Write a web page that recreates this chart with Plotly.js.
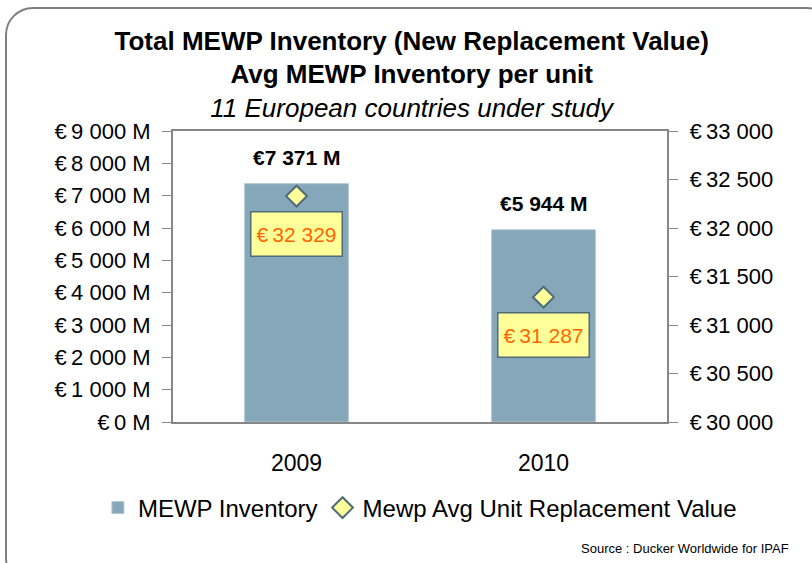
<!DOCTYPE html>
<html>
<head>
<meta charset="utf-8">
<script src="https://cdn.plot.ly/plotly-3.0.1.min.js"></script>
<style>
  html, body { margin:0; padding:0; background:#fff; overflow:hidden; }
  #chart { position:absolute; left:0; top:0; width:812px; height:563px; }
  #frame { position:absolute; left:5px; top:7px; width:830px; height:580px;
           border:2px solid #7f7f7f; border-radius:28px; pointer-events:none; box-sizing:border-box; }
</style>
</head>
<body>
<div id="chart"></div>
<div id="frame"></div>
<script>
// ---- data ----
const years = ['2009', '2010'];
const inventoryM = [7371, 5944];          // € millions
const avgUnitValue = [32329, 31287];      // € per unit
const seriesNames = ['MEWP Inventory', 'Mewp Avg Unit Replacement Value'];
const leftTicks = [0, 1000, 2000, 3000, 4000, 5000, 6000, 7000, 8000, 9000];
const rightTicks = [30000, 30500, 31000, 31500, 32000, 32500, 33000];

function grp(v) { return String(v).replace(/\B(?=(\d{3})+(?!\d))/g, ' '); }

const FONT = 'Liberation Sans, Arial, sans-serif';

const bars = {
  type: 'bar', x: years, y: inventoryM, name: seriesNames[0],
  width: 0.42,
  marker: { color: '#86A6B9', line: { color: '#B3C8D5', width: 1 } },
  hoverinfo: 'skip'
};
const pts = {
  type: 'scatter', mode: 'markers', x: years, y: avgUnitValue, yaxis: 'y2',
  name: seriesNames[1],
  marker: { symbol: 'diamond', size: 16, color: '#FFFF99', line: { color: '#4F6B7A', width: 2 } },
  hoverinfo: 'skip'
};

const annotations = [];
years.forEach((yr, i) => {
  annotations.push({
    x: i, y: inventoryM[i], xref: 'x', yref: 'y', yanchor: 'bottom',
    yshift: 13, showarrow: false,
    text: '<b>€' + grp(inventoryM[i]) + ' M</b>',
    font: { family: FONT, size: 21, color: '#000' }
  });
  annotations.push({
    x: i, y: avgUnitValue[i], xref: 'x', yref: 'y2', yanchor: 'top',
    yshift: -15, showarrow: false,
    text: '€\u2009' + grp(avgUnitValue[i]),
    width: 90, height: 43, borderpad: 0,
    bgcolor: '#FFFF99', bordercolor: '#4F6B7A', borderwidth: 1.5,
    font: { family: FONT, size: 21, color: '#FF6600' }
  });
});
annotations.push({
  xref: 'paper', yref: 'paper', x: 1.25, y: -0.435, xanchor: 'right', yanchor: 'middle',
  showarrow: false, text: 'Source : Ducker Worldwide for IPAF',
  font: { family: FONT, size: 13, color: '#000' }
});

const layout = {
  width: 812, height: 563,
  margin: { l: 173, r: 145, t: 131, b: 141 },
  paper_bgcolor: '#fff', plot_bgcolor: '#fff',
  font: { family: FONT, color: '#000' },
  separators: ', ',
  title: {
    text: '<b>Total MEWP Inventory (New Replacement Value)</b><br><b>Avg MEWP Inventory per unit</b><br><i>11 European countries under study</i>',
    font: { family: FONT, size: 26, color: '#000' },
    xref: 'container', x: 0.507, xanchor: 'center',
    yref: 'container', y: 0.912, yanchor: 'top'
  },
  showlegend: true,
  legend: {
    orientation: 'h', xref: 'paper', yref: 'paper',
    x: -0.152, xanchor: 'left', y: -0.2955, yanchor: 'middle',
    bgcolor: 'rgba(0,0,0,0)',
    font: { family: FONT, size: 24, color: '#000' }, itemwidth: 30, traceorder: 'normal'
  },
  xaxis: {
    type: 'category', range: [-0.5, 1.5],
    showline: true, linecolor: '#868686', linewidth: 2, mirror: true,
    ticks: '', ticklabelstandoff: 19,
    tickfont: { family: FONT, size: 23, color: '#000' },
    showgrid: false, zeroline: false, fixedrange: true
  },
  yaxis: {
    range: [0, 9000], tickvals: leftTicks,
    ticktext: leftTicks.map(v => '€\u2009' + grp(v) + ' M'),
    showline: true, linecolor: '#868686', linewidth: 2,
    ticks: 'outside', ticklen: 9, tickcolor: '#868686', tickwidth: 1,
    ticklabelstandoff: 7,
    tickfont: { family: FONT, size: 22, color: '#000' },
    showgrid: false, zeroline: false, fixedrange: true
  },
  yaxis2: {
    overlaying: 'y', side: 'right',
    range: [30000, 33000], tickvals: rightTicks,
    ticktext: rightTicks.map(v => '€\u2009' + grp(v)),
    showline: true, linecolor: '#868686', linewidth: 2,
    ticks: 'outside', ticklen: 9, tickcolor: '#868686', tickwidth: 1,
    ticklabelstandoff: 7,
    tickfont: { family: FONT, size: 22, color: '#000' },
    showgrid: false, zeroline: false, fixedrange: true
  },
  annotations: annotations
};

Plotly.newPlot('chart', [bars, pts], layout, { displayModeBar: false, staticPlot: true });
</script>
</body>
</html>
